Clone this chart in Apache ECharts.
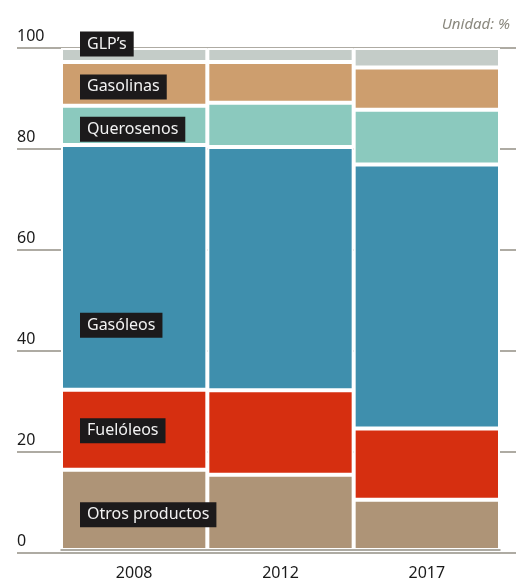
<!DOCTYPE html>
<html>
<head>
<meta charset="utf-8">
<script src="https://cdn.jsdelivr.net/npm/echarts@6/dist/echarts.min.js"></script>
<style>
    html, body { margin: 0; padding: 0; background: #fff; }
    #chart { width: 516px; height: 581px; }
</style>
</head>
<body>
<div id="chart"></div>
<script>
// datos (% del total), de abajo hacia arriba
const years = ['2008', '2012', '2017'];
const otros = [16.0, 15.0, 10.0];
const fueloleos = [15.9, 16.8, 14.2];
const gasoleos = [48.8, 48.5, 52.6];
const querosenos = [7.8, 8.8, 10.9];
const gasolinas = [8.7, 8.1, 8.4];
const glp = [2.8, 2.8, 3.9];
const yTicks = [0, 20, 40, 60, 80, 100];

// nombre, datos, color, desplazamiento vertical de la etiqueta
const capas = [
    ['Otros productos', otros, '#ae9477', 5],
    ['Fuelóleos', fueloleos, '#d62f10', 1],
    ['Gasóleos', gasoleos, '#3f8fad', 58],
    ['Querosenos', querosenos, '#8bc9be', 4],
    ['Gasolinas', gasolinas, '#cd9e6e', 3],
    ['GLP’s', glp, '#c4ccc8', -11],
];

const chart = echarts.init(document.getElementById('chart'));

let series = capas.map(c => ({
    name: c[0],
    type: 'bar',
    stack: 'total',
    xAxisIndex: 0,
    yAxisIndex: 0,
    barCategoryGap: 0,
    itemStyle: { color: c[2], borderColor: '#fff', borderWidth: 2 },
    label: {
        show: false,
        position: 'insideLeft',
        distance: 19,
        offset: [0, c[3]],
        formatter: '{a}',
        color: '#f2f2f2',
        fontFamily: 'Noto Sans',
        fontSize: 16,
        backgroundColor: '#1c1a1b',
        padding: [3, 7, 3, 7],
        lineHeight: 19,
    },
    emphasis: { disabled: true },
    data: c[1].map((v, i) => (i === 0 ? { value: v, label: { show: true } } : v)),
}));

const option = {
    animation: false,
    grid: [
        { left: 61, right: 16, top: 48, bottom: 28 },
        { left: 17, right: 0, top: 48, bottom: 28 },
    ],
    title: {
        text: 'Unidad: %',
        right: 1,
        top: 12,
        textStyle: { fontFamily: 'Noto Sans', fontStyle: 'italic', fontWeight: 'normal', fontSize: 15, color: '#8a887e' },
    },
    xAxis: [
        {
            type: 'category',
            gridIndex: 0,
            data: years,
            z: 5,
            axisLine: { show: true, lineStyle: { color: '#938f84', width: 1.5 } },
            axisTick: { show: false },
            axisLabel: { margin: 15, fontFamily: 'Noto Sans', fontSize: 16, color: '#1a1a1a' },
        },
        { type: 'value', gridIndex: 1, min: 0, max: 1, show: false },
    ],
    yAxis: [
        { type: 'value', gridIndex: 0, min: 0, max: 100, show: false },
        {
            type: 'value',
            gridIndex: 1,
            min: 0,
            max: 100,
            interval: 20,
            axisLine: { show: false },
            axisTick: { show: false },
            splitLine: { show: true, lineStyle: { color: '#938f84', width: 1.5 } },
            axisLabel: {
                inside: true,
                margin: 0,
                align: 'left',
                verticalAlign: 'bottom',
                padding: [0, 0, 4, 0],
                fontFamily: 'Noto Sans',
                fontSize: 16,
                color: '#1a1a1a',
                formatter: v => (yTicks.indexOf(v) >= 0 ? String(v) : ''),
            },
        },
    ],
    series: series,
};

chart.setOption(option);
</script>
</body>
</html>
